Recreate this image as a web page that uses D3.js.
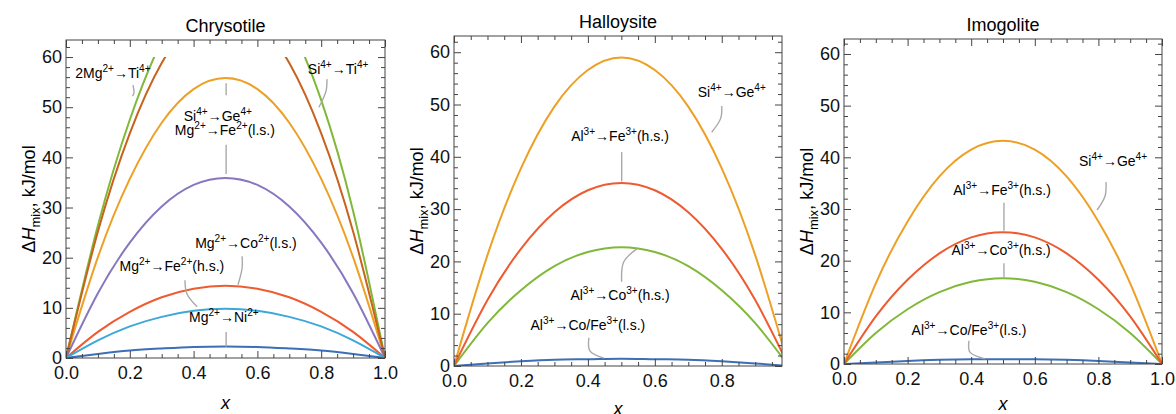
<!DOCTYPE html>
<html>
<head>
<meta charset="utf-8">
<script src="https://cdn.jsdelivr.net/npm/d3@7"></script>
<style>
  body { margin: 0; background: #fff; }
  svg { font-family: "Liberation Sans", Arial, sans-serif; }
</style>
</head>
<body>
<div id="chart"></div>
<script>
// Données (x = 0, 0.1, ..., 1.0)
const xValues = [0, 0.1, 0.2, 0.3, 0.4, 0.5, 0.6, 0.7, 0.8, 0.9, 1.0];

// Chrysotile
const chrysotileTiGreen = [0, 26.4, 47.5, 63.2, 73.2, 77.3, 75.1, 66.6, 51.4, 29.3, 0];
const chrysotileTiBrown = [0, 25.2, 44.8, 58.8, 67.2, 70.0, 67.2, 58.8, 44.8, 25.2, 0];
const chrysotileGe = [0, 20.1, 35.7, 46.9, 53.6, 55.8, 53.6, 46.9, 35.7, 20.1, 0];
const chrysotileFeLs = [0, 12.9, 23.0, 30.2, 34.5, 35.9, 34.5, 30.2, 23.0, 12.9, 0];
const chrysotileCoLs = [0, 5.2, 9.2, 12.1, 13.8, 14.4, 13.8, 12.1, 9.2, 5.2, 0];
const chrysotileFeHs = [0, 3.5, 6.3, 8.2, 9.4, 9.8, 9.4, 8.2, 6.3, 3.5, 0];
const chrysotileNi = [0, 0.8, 1.5, 1.9, 2.2, 2.3, 2.2, 1.9, 1.5, 0.8, 0];

// Halloysite
const halloysiteGe = [0, 21.2, 37.8, 49.6, 56.6, 59.0, 56.6, 49.6, 37.8, 21.2, 0];
const halloysiteFeHs = [0, 12.6, 22.4, 29.4, 33.6, 35.0, 33.6, 29.4, 22.4, 12.6, 0];
const halloysiteCoHs = [0, 8.2, 14.5, 19.1, 21.8, 22.7, 21.8, 19.1, 14.5, 8.2, 0];
const halloysiteLs = [0, 0.5, 0.9, 1.2, 1.3, 1.4, 1.3, 1.2, 0.9, 0.5, 0];

// Imogolite
const imogoliteGe = [0, 15.6, 27.6, 36.3, 41.5, 43.2, 41.5, 36.3, 27.6, 15.6, 0];
const imogoliteFeHs = [0, 9.2, 16.3, 21.4, 24.5, 25.5, 24.5, 21.4, 16.3, 9.2, 0];
const imogoliteCoHs = [0, 6.0, 10.6, 13.9, 15.9, 16.6, 15.9, 13.9, 10.6, 6.0, 0];
const imogoliteLs = [0, 0.3, 0.6, 0.8, 0.9, 0.9, 0.9, 0.8, 0.6, 0.3, 0];

// Graduations
const xTicksFull = [0, 0.2, 0.4, 0.6, 0.8, 1.0];
const xTicksShort = [0, 0.2, 0.4, 0.6, 0.8];
const yTicks = [0, 10, 20, 30, 40, 50, 60];

// Couleurs
const colors = {
    blue: '#3c6fb6', orange: '#eda024', green: '#80b83a', red: '#ee5b30',
    purple: '#8877be', brown: '#c8621c', cyan: '#3da7d8'
};

// Annotations : [texte, x, y (ligne de base)], trait de rappel en coordonnées des données
const panels = [
    {
        title: 'Chrysotile', box: { left: 66, right: 385, top: 40, bottom: 358 },
        yMax: 63.4, xMax: 1.0, xTicks: xTicksFull, xLabelGap: 51,
        curves: [
            [chrysotileNi, colors.blue], [chrysotileGe, colors.orange], [chrysotileTiGreen, colors.green],
            [chrysotileCoLs, colors.red], [chrysotileFeLs, colors.purple], [chrysotileTiBrown, colors.brown],
            [chrysotileFeHs, colors.cyan]
        ],
        notes: [
            ['2Mg^{2+}→Ti^{4+}', 0.147, 55.8, [[0.21, 54.4], [0.213, 52.8], [0.208, 52.2]]],
            ['Si^{4+}→Ti^{4+}', 0.853, 56.6, [[0.818, 55.6], [0.815, 53.2], [0.793, 50.0]]],
            ['Si^{4+}→Ge^{4+}', 0.476, 47.2, [[0.502, 54.8], [0.502, 52.4]]],
            ['Mg^{2+}→Fe^{2+}(l.s.)', 0.498, 44.4, [[0.502, 42.5], [0.502, 36.7]]],
            ['Mg^{2+}→Co^{2+}(l.s.)', 0.564, 21.9, [[0.552, 20.3], [0.552, 17.9], [0.539, 14.6]]],
            ['Mg^{2+}→Fe^{2+}(h.s.)', 0.332, 17.3, [[0.373, 15.5], [0.379, 12.8], [0.411, 10.2]]],
            ['Mg^{2+}→Ni^{2+}', 0.495, 7.2, [[0.502, 5.2], [0.502, 2.3]]]
        ]
    },
    {
        title: 'Halloysite', box: { left: 454, right: 782, top: 36, bottom: 366 },
        yMax: 63.1, xMax: 0.98, xTicks: xTicksShort, xLabelGap: 49,
        curves: [
            [halloysiteLs, colors.blue], [halloysiteGe, colors.orange],
            [halloysiteCoHs, colors.green], [halloysiteFeHs, colors.red]
        ],
        notes: [
            ['Si^{4+}→Ge^{4+}', 0.830, 51.4, [[0.800, 49.7], [0.797, 47.4], [0.770, 44.7]]],
            ['Al^{3+}→Fe^{3+}(h.s.)', 0.496, 43.0, [[0.501, 40.9], [0.501, 35.3]]],
            ['Al^{3+}→Co^{3+}(h.s.)', 0.496, 12.6, [[0.546, 22.4], [0.507, 19.9], [0.501, 16.1]]],
            ['Al^{3+}→Co/Fe^{3+}(l.s.)', 0.40, 6.9, [[0.403, 5.4], [0.406, 2.9], [0.448, 1.5]]]
        ]
    },
    {
        title: 'Imogolite', box: { left: 844, right: 1162, top: 39, bottom: 364 },
        yMax: 62.9, xMax: 1.0, xTicks: xTicksFull, xLabelGap: 46,
        curves: [
            [imogoliteLs, colors.blue], [imogoliteGe, colors.orange],
            [imogoliteCoHs, colors.green], [imogoliteFeHs, colors.red]
        ],
        notes: [
            ['Si^{4+}→Ge^{4+}', 0.846, 38.3, [[0.824, 35.2], [0.821, 32.5], [0.796, 29.8]]],
            ['Al^{3+}→Fe^{3+}(h.s.)', 0.497, 32.7, [[0.503, 31.2], [0.503, 25.8]]],
            ['Al^{3+}→Co^{3+}(h.s.)', 0.494, 21.1, [[0.503, 19.5], [0.503, 16.8]]],
            ['Al^{3+}→Co/Fe^{3+}(l.s.)', 0.393, 5.6, [[0.393, 4.5], [0.396, 2.3], [0.443, 1.0]]]
        ]
    }
];

const svg = d3.select('#chart')
    .append('svg')
    .attr('width', 1176)
    .attr('height', 414);

const frameColor = '#444';

// Texte avec exposants ^{...}
function richText(sel, str, size) {
    const parts = str.split(/(\^\{[^}]*\})/).filter(s => s);
    let shifted = false;
    parts.forEach(p => {
        if (p.startsWith('^{')) {
            sel.append('tspan')
                .attr('dy', shifted ? 0 : -size * 0.42)
                .style('font-size', (size * 0.72) + 'px')
                .text(p.slice(2, -1));
            shifted = true;
        } else {
            sel.append('tspan')
                .attr('dy', shifted ? size * 0.42 : 0)
                .text(p);
            shifted = false;
        }
    });
}

panels.forEach((p, k) => {
    const b = p.box;
    const w = b.right - b.left, h = b.bottom - b.top;
    const g = svg.append('g').attr('transform', `translate(${b.left},${b.top})`);

    const x = d3.scaleLinear().domain([0, p.xMax]).range([0, w]);
    const y = d3.scaleLinear().domain([0, p.yMax]).range([h, 0]);

    // Titre
    svg.append('text')
        .attr('x', b.left + w / 2)
        .attr('y', b.top - 8)
        .attr('text-anchor', 'middle')
        .style('font-size', '18px')
        .text(p.title);

    // Zone de découpe (les courbes s'arrêtent à 60)
    const clipId = 'clip' + k;
    g.append('clipPath').attr('id', clipId)
        .append('rect')
        .attr('x', 0).attr('y', y(60))
        .attr('width', w).attr('height', h - y(60));

    const line = d3.line()
        .x((d, i) => x(xValues[i]))
        .y(d => y(d))
        .curve(d3.curveNatural);

    g.append('g')
        .attr('clip-path', `url(#${clipId})`)
        .selectAll('path')
        .data(p.curves)
        .join('path')
        .attr('d', d => line(d[0]))
        .attr('fill', 'none')
        .attr('stroke', d => d[1])
        .attr('stroke-width', 2);

    // Traits de rappel
    const leader = d3.line()
        .x(d => x(d[0]))
        .y(d => y(d[1]))
        .curve(d3.curveCatmullRom);

    g.append('g')
        .selectAll('path')
        .data(p.notes)
        .join('path')
        .attr('d', d => leader(d[3]))
        .attr('fill', 'none')
        .attr('stroke', '#a9a9a9')
        .attr('stroke-width', 1.4);

    // Étiquettes
    p.notes.forEach(n => {
        const t = g.append('text')
            .attr('x', x(n[1]))
            .attr('y', y(n[2]))
            .attr('text-anchor', 'middle')
            .style('font-size', '14px');
        richText(t, n[0], 14);
    });

    // Axes (graduations vers l'intérieur)
    const minorX = d3.range(0, 20).map(i => i * 0.05).filter(v => v <= p.xMax + 1e-9 && Math.round(v * 100) % 20 !== 0);
    const minorY = d3.range(0, 32).map(i => i * 2).filter(v => v <= p.yMax && v % 10 !== 0);

    const styleAxis = sel => {
        sel.select('.domain').remove();
        sel.selectAll('line').attr('stroke', frameColor);
        sel.selectAll('text')
            .attr('fill', '#111')
            .style('font-size', '18px')
            .style('font-family', '"Liberation Sans", Arial, sans-serif');
    };

    g.append('g')
        .attr('transform', `translate(0,${h})`)
        .call(d3.axisBottom(x).tickValues(p.xTicks).tickFormat(d3.format('.1f')).tickSize(-7).tickPadding(8))
        .call(styleAxis);
    g.append('g')
        .attr('transform', `translate(0,${h})`)
        .call(d3.axisBottom(x).tickValues(minorX).tickFormat('').tickSize(-4))
        .call(styleAxis);
    g.append('g')
        .call(d3.axisTop(x).tickValues(p.xTicks).tickFormat('').tickSize(-7))
        .call(styleAxis);
    g.append('g')
        .call(d3.axisTop(x).tickValues(minorX).tickFormat('').tickSize(-4))
        .call(styleAxis);

    g.append('g')
        .call(d3.axisLeft(y).tickValues(yTicks).tickFormat(d3.format('d')).tickSize(-7).tickPadding(4))
        .call(styleAxis);
    g.append('g')
        .call(d3.axisLeft(y).tickValues(minorY).tickFormat('').tickSize(-4))
        .call(styleAxis);
    g.append('g')
        .attr('transform', `translate(${w},0)`)
        .call(d3.axisRight(y).tickValues(yTicks).tickFormat('').tickSize(-7))
        .call(styleAxis);
    g.append('g')
        .attr('transform', `translate(${w},0)`)
        .call(d3.axisRight(y).tickValues(minorY).tickFormat('').tickSize(-4))
        .call(styleAxis);

    // Cadre
    g.append('rect')
        .attr('width', w).attr('height', h)
        .attr('fill', 'none')
        .attr('stroke', frameColor)
        .attr('stroke-width', 1);

    // Titre de l'axe x
    svg.append('text')
        .attr('x', b.left + w / 2)
        .attr('y', b.bottom + p.xLabelGap)
        .attr('text-anchor', 'middle')
        .style('font-size', '18px')
        .style('font-style', 'italic')
        .text('x');

    // Titre de l'axe y : ΔH_mix, kJ/mol
    const yl = svg.append('text')
        .attr('transform', `translate(${b.left - 31},${b.top + h / 2}) rotate(-90)`)
        .attr('text-anchor', 'middle')
        .style('font-size', '18px');
    yl.append('tspan').text('Δ');
    yl.append('tspan').style('font-style', 'italic').text('H');
    yl.append('tspan').attr('dy', 5).style('font-size', '13px').text('mix');
    yl.append('tspan').attr('dy', -5).text(', kJ/mol');
});
</script>
</body>
</html>
